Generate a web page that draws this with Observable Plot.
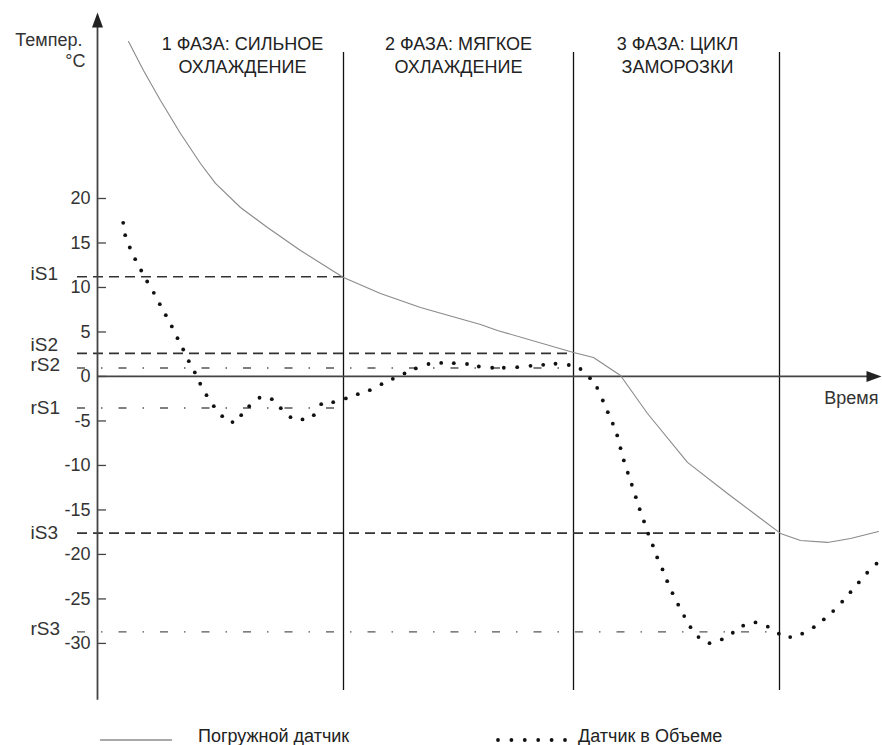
<!DOCTYPE html>
<html>
<head>
<meta charset="utf-8">
<script src="https://cdn.jsdelivr.net/npm/d3@7"></script>
<script src="https://cdn.jsdelivr.net/npm/@observablehq/plot@0.6"></script>
<style>
  html, body { margin: 0; padding: 0; background: #fff; }
  #wrap { width: 882px; font-family: "Liberation Sans", Arial, sans-serif; }
  #legend text { font-family: "Liberation Sans", Arial, sans-serif; font-size: 18px; fill: #222; }
</style>
</head>
<body>
<div id="wrap"></div>
<script>
// ---- Data ----
// Погружной датчик (immersion probe), time in arbitrary units, temperature °C
const probeTime = [6.2, 9.2, 12.6, 16.6, 20.6, 23.6, 28.6, 34.0, 40.6, 46.0, 49.2, 56.6, 64.6, 76.6, 80.0, 95.2, 99.2, 104.6, 110.0, 118.0, 126.0, 136.6, 140.6, 146.0, 150.6, 156.2];
const probeTemp = [37.64, 34.38, 31.01, 27.30, 23.93, 21.69, 18.99, 16.74, 14.16, 12.25, 11.12, 9.33, 7.75, 5.84, 5.17, 2.70, 2.13, 0.11, -4.16, -9.66, -13.15, -17.64, -18.43, -18.65, -18.20, -17.42];

// Датчик в Объеме (air/volume probe)
const airTime = [5.14, 5.54, 6.46, 7.54, 8.74, 9.94, 11.26, 12.46, 13.66, 14.86, 16.0, 17.14, 18.26, 19.46, 20.54, 21.8, 23.26, 24.94, 27.0, 28.74, 30.34, 32.4, 34.86, 36.66, 38.6, 41.0, 43.26, 44.74, 47.14, 49.66, 52.06, 54.46, 56.8, 59.06, 61.4, 63.66, 66.2, 68.74, 71.26, 73.9, 76.26, 78.94, 81.26, 83.94, 86.6, 89.14, 91.6, 94.26, 96.6, 98.5, 99.94, 101.06, 102.06, 103.06, 103.94, 104.6, 105.26, 106.06, 106.86, 107.66, 108.44, 109.3, 110.14, 111.06, 111.94, 113.0, 113.94, 115.0, 116.14, 117.34, 118.6, 120.2, 122.4, 124.86, 127.06, 129.14, 131.6, 134.06, 136.26, 138.54, 140.94, 143.26, 145.26, 147.14, 148.94, 150.6, 152.26, 153.94, 155.8];
const airTemp = [17.27, 15.88, 14.49, 13.18, 11.91, 10.67, 9.40, 8.12, 6.89, 5.62, 4.30, 3.03, 1.72, 0.45, -0.82, -2.10, -3.34, -4.46, -5.13, -4.35, -3.34, -2.39, -2.55, -3.56, -4.57, -4.83, -4.35, -3.11, -2.89, -2.47, -1.99, -1.54, -0.87, -0.26, 0.34, 0.90, 1.40, 1.52, 1.49, 1.40, 1.12, 0.98, 0.98, 1.04, 1.20, 1.31, 1.43, 1.29, 0.84, -0.19, -1.29, -2.70, -4.01, -5.31, -6.63, -8.06, -9.44, -10.82, -12.17, -13.56, -14.91, -16.29, -17.67, -18.99, -20.34, -21.69, -23.00, -24.35, -25.65, -26.93, -28.17, -29.29, -29.97, -29.55, -28.80, -28.01, -27.64, -28.12, -28.91, -29.29, -28.91, -28.17, -27.30, -26.37, -25.31, -24.24, -23.15, -22.06, -21.04];

// Phases: end times and labels
const phaseEnds = [49.2, 95.2, 136.4];
const phaseLabelTime = [29, 72.2, 116];
const phaseLabels = ["1 ФАЗА: СИЛЬНОЕ\nОХЛАЖДЕНИЕ", "2 ФАЗА: МЯГКОЕ\nОХЛАЖДЕНИЕ", "3 ФАЗА: ЦИКЛ\nЗАМОРОЗКИ"];

// Setpoints (i = start, r = restart), one per phase
const iSNames = ["iS1", "iS2", "iS3"];
const iSValues = [11.2, 2.6, -17.6];
const rSNames = ["rS1", "rS2", "rS3"];
const rSValues = [-3.55, 0.95, -28.7];

// Axis ticks
const yTicks = [20, 15, 10, 5, 0, -5, -10, -15, -20, -25, -30];
const yTickLabels = ["20", "15", "10", "5", "0", "-5", "-10", "-15", "-20", "-25", "-30"];

const yAxisLabel = ["Темпер.", "°C"];
const xAxisLabel = "Время";
const legendLabels = ["Погружной датчик", "Датчик в Объеме"];

// ---- Build tables ----
const probe = probeTime.map((t, i) => ({t, v: probeTemp[i]}));
const air = airTime.map((t, i) => ({t, v: airTemp[i]}));
const iS = iSNames.map((n, i) => ({n, v: iSValues[i], end: phaseEnds[i]}));
const rS = rSNames.map((n, i) => ({n, v: rSValues[i], end: phaseEnds[i]}));
const setpoints = [...iS, ...rS];
const phases = phaseLabels.map((l, i) => ({l, t: phaseLabelTime[i]}));
const ticks = yTicks.map((v, i) => ({v, l: yTickLabels[i]}));

const arrowHead = {
  draw(ctx) {
    ctx.moveTo(0, 0);
    ctx.lineTo(5.5, 15);
    ctx.lineTo(-5.5, 15);
    ctx.closePath();
  }
};

// label vertical nudges (px) so neighbouring setpoint labels don't collide
const labelGroups = [
  {names: ["iS1", "rS2", "rS3"], dy: -3},
  {names: ["iS2"], dy: -8},
  {names: ["rS1", "iS3"], dy: 0}
];

const axisColor = "#444";
const chart = Plot.plot({
  width: 882,
  height: 715,
  marginLeft: 97,
  marginRight: 0,
  marginTop: 0,
  marginBottom: 0,
  x: {domain: [0, 157], axis: null},
  y: {domain: [-38.1, 42.25], axis: null},
  style: {fontFamily: "'Liberation Sans', Arial, sans-serif", fontSize: "18px", background: "#fff", color: "#222"},
  marks: [
    // phase separators
    Plot.ruleX(phaseEnds, {x: d => d, y1: -35.3, y2: 36.4, stroke: "#111", strokeWidth: 1.3}),
    // setpoint lines
    Plot.ruleY(iS, {y: "v", x1: -4, x2: "end", stroke: "#333", strokeWidth: 1.6, strokeDasharray: "10,6"}),
    Plot.ruleY(rS, {y: "v", x1: -4, x2: "end", stroke: "#555", strokeWidth: 1.4, strokeDasharray: "8,16,1.5,16"}),
    // axes
    Plot.ruleX([0], {y1: -36.4, y2: 39.5, stroke: axisColor, strokeWidth: 1.8}),
    Plot.ruleY([0], {x1: 0, x2: 155, stroke: axisColor, strokeWidth: 1.8}),
    Plot.dot([{t: 0, v: 40.9}], {x: "t", y: "v", symbol: arrowHead, fill: "#222", stroke: "none", r: 3}),
    Plot.dot([{t: 156.8, v: 0}], {x: "t", y: "v", symbol: arrowHead, fill: "#222", stroke: "none", r: 3, rotate: 90}),
    // y ticks
    Plot.ruleY(ticks, {y: "v", x1: 0, x2: 1.8, stroke: axisColor, strokeWidth: 1.3}),
    Plot.text(ticks, {x: 0, y: "v", text: "l", textAnchor: "end", dx: -7, fontSize: 18, fill: "#333"}),
    // setpoint labels
    ...labelGroups.map(g => Plot.text(setpoints, {
      filter: d => g.names.includes(d.n),
      x: 0, y: "v", text: "n", textAnchor: "start", dx: -67, dy: g.dy, fontSize: 19, fill: "#333"
    })),
    // series
    Plot.line(probe, {x: "t", y: "v", stroke: "#8a8a8a", strokeWidth: 1.1}),
    Plot.dot(air, {x: "t", y: "v", r: 1.9, fill: "#111", stroke: "none"}),
    // phase titles
    Plot.text(phases, {x: "t", y: 36.2, text: "l", textAnchor: "middle", lineHeight: 1.28, fontSize: 18, fill: "#222"}),
    // axis labels
    Plot.text([yAxisLabel[0]], {x: 0, y: 37.75, text: d => d, textAnchor: "end", dx: -15, fontSize: 18, fill: "#333"}),
    Plot.text([yAxisLabel[1]], {x: 0, y: 35.4, text: d => d, textAnchor: "end", dx: -12, fontSize: 18, fill: "#333"}),
    Plot.text([xAxisLabel], {x: 156.2, y: 0, text: d => d, textAnchor: "end", dy: 22, fontSize: 18, fill: "#333"})
  ]
});
document.getElementById("wrap").appendChild(chart);

// legend below the chart
const ns = "http://www.w3.org/2000/svg";
const leg = document.createElementNS(ns, "svg");
leg.setAttribute("id", "legend");
leg.setAttribute("width", 882);
leg.setAttribute("height", 30);
leg.style.display = "block";
let html = `<line x1="100" x2="172" y1="25" y2="25" stroke="#555" stroke-width="1.2"/>`;
html += `<text x="198" y="26.5">${legendLabels[0]}</text>`;
for (let i = 0; i < 6; i++) html += `<circle cx="${498 + i * 13.4}" cy="25" r="1.9" fill="#111"/>`;
html += `<text x="578" y="26.5">${legendLabels[1]}</text>`;
leg.innerHTML = html;
document.getElementById("wrap").appendChild(leg);
</script>
</body>
</html>
